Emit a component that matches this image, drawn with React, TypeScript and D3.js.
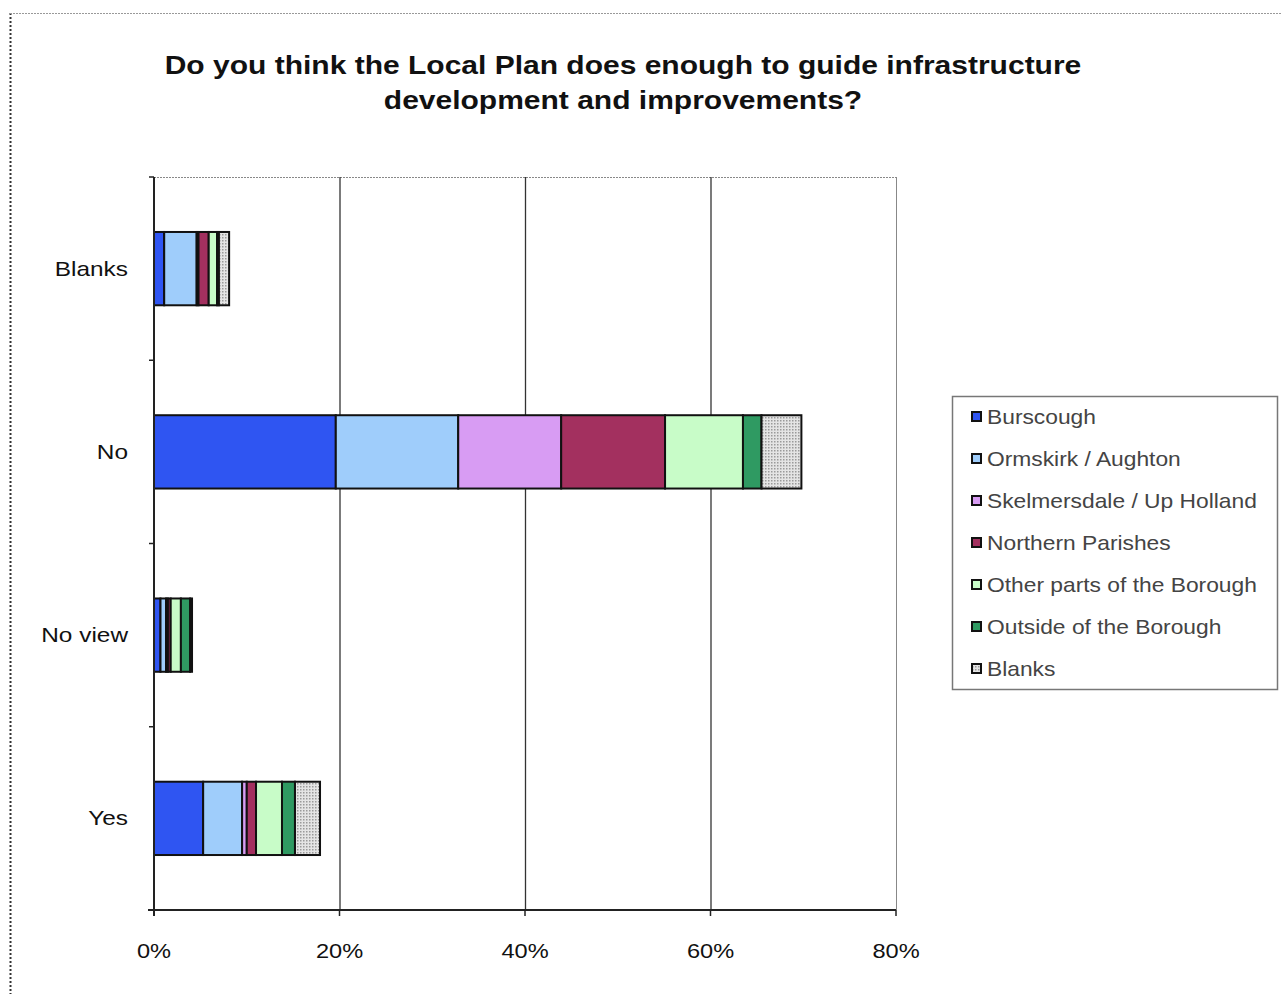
import React from "react";
import * as d3 from "d3";

const categories = ["Blanks", "No", "No view", "Yes"];
const seriesNames = [
  "Burscough",
  "Ormskirk / Aughton",
  "Skelmersdale / Up Holland",
  "Northern Parishes",
  "Other parts of the Borough",
  "Outside of the Borough",
  "Blanks",
];
// values in percent, per category (rows) per series (columns)
const burscough = [1.1, 19.6, 0.7, 5.3];
const ormskirk = [3.5, 13.2, 0.6, 4.2];
const skelmersdale = [0.2, 11.1, 0.2, 0.5];
const northern = [1.1, 11.2, 0.3, 1.0];
const otherParts = [0.9, 8.4, 1.1, 2.8];
const outside = [0.2, 2.0, 1.0, 1.4];
const blanksSeries = [1.1, 4.3, 0.2, 2.7];
const xTicks = [0, 20, 40, 60, 80];
const titleLines = [
  "Do you think the Local Plan does enough to guide infrastructure",
  "development and improvements?",
];

const seriesValues = [burscough, ormskirk, skelmersdale, northern, otherParts, outside, blanksSeries];
const colors = ["#2f55f2", "#9fcdfb", "#d89cf3", "#a3305f", "#c8fcc8", "#2f9a62", "url(#dots)"];

const W = 1281;
const H = 994;
const plot = { left: 154, right: 896, top: 177, bottom: 910 };

export default function App() {
  const x = d3.scaleLinear().domain([0, 80]).range([plot.left, plot.right]);
  const y = d3.scaleBand<string>().domain(categories).range([plot.top, plot.bottom]).paddingInner(0.6).paddingOuter(0.3);
  const step = y.step();

  const rows = categories.map((c, i) => {
    const obj: any = { cat: c };
    seriesNames.forEach((s, j) => (obj["s" + j] = seriesValues[j][i]));
    return obj;
  });
  const stack = d3.stack<any>().keys(seriesNames.map((_, j) => "s" + j))(rows);

  const font = "'Liberation Sans', Arial, sans-serif";
  const sepYs = d3.range(categories.length + 1).map((i) => plot.top + i * step);

  return (
    <svg width={W} height={H} style={{ position: "absolute", left: 0, top: 0, background: "#fff" }} fontFamily={font}>
      <defs>
        <pattern id="dots" width="3" height="3" patternUnits="userSpaceOnUse">
          <rect width="3" height="3" fill="#e4e4e4" />
          <rect width="1.5" height="1.5" fill="#9a9a9a" />
        </pattern>
      </defs>
      <rect x={0} y={0} width={W} height={H} fill="#fff" />
      {/* outer chart border */}
      <line x1={10.5} y1={13} x2={10.5} y2={H} stroke="#333" strokeWidth={2} strokeDasharray="2,2" />
      <line x1={10} y1={13.5} x2={W} y2={13.5} stroke="#999" strokeWidth={1} strokeDasharray="2,1" />

      {/* title */}
      {titleLines.map((t, i) => (
        <text
          key={i}
          transform={`translate(623, ${74 + i * 35}) scale(1.2, 1)`}
          textAnchor="middle"
          fontSize={25}
          fontWeight="bold"
          fill="#111"
        >
          {t}
        </text>
      ))}

      {/* plot area border */}
      <line x1={plot.left} y1={plot.top + 0.5} x2={plot.right} y2={plot.top + 0.5} stroke="#888" strokeDasharray="2,1" />
      <line x1={plot.right + 0.5} y1={plot.top} x2={plot.right + 0.5} y2={plot.bottom} stroke="#888" />

      {/* gridlines */}
      {xTicks.slice(1, -1).map((t) => (
        <line key={t} x1={x(t) + 0.5} x2={x(t) + 0.5} y1={plot.top} y2={plot.bottom} stroke="#333" strokeWidth={1.3} />
      ))}

      {/* bars */}
      {stack.map((layer, j) =>
        layer.map((d, i) => (
          <rect
            key={j + "-" + i}
            x={x(d[0])}
            y={y(categories[i])!}
            width={x(d[1]) - x(d[0])}
            height={y.bandwidth()}
            fill={colors[j]}
            stroke="#111"
            strokeWidth={2}
          />
        ))
      )}

      {/* axes */}
      <line x1={plot.left} y1={plot.top} x2={plot.left} y2={plot.bottom + 6} stroke="#222" strokeWidth={2} />
      <line x1={plot.left - 6} y1={plot.bottom} x2={plot.right} y2={plot.bottom} stroke="#222" strokeWidth={2} />
      {sepYs.map((sy, i) => (
        <line key={i} x1={plot.left - 5} x2={plot.left} y1={sy} y2={sy} stroke="#222" strokeWidth={1.5} />
      ))}
      {xTicks.map((t) => (
        <line key={t} x1={x(t)} x2={x(t)} y1={plot.bottom} y2={plot.bottom + 6} stroke="#222" strokeWidth={1.5} />
      ))}

      {/* category labels */}
      {categories.map((c) => (
        <text
          key={c}
          transform={`translate(128, ${y(c)! + y.bandwidth() / 2 + 7}) scale(1.22, 1)`}
          textAnchor="end"
          fontSize={20}
          fill="#111"
        >
          {c}
        </text>
      ))}
      {/* x tick labels */}
      {xTicks.map((t) => (
        <text key={t} transform={`translate(${x(t)}, 958) scale(1.18, 1)`} textAnchor="middle" fontSize={20} fill="#111">
          {t}%
        </text>
      ))}

      {/* legend */}
      <rect x={952.5} y={396.5} width={325} height={293} fill="#fff" stroke="#777" strokeWidth={1.5} />
      {seriesNames.map((s, j) => (
        <g key={s} transform={`translate(972, ${417 + j * 42})`}>
          <rect x={0} y={-5} width={9} height={9} fill={colors[j]} stroke="#111" strokeWidth={2} />
          <text transform="translate(15, 7) scale(1.14, 1)" fontSize={20} fill="#444">
            {s}
          </text>
        </g>
      ))}
    </svg>
  );
}
